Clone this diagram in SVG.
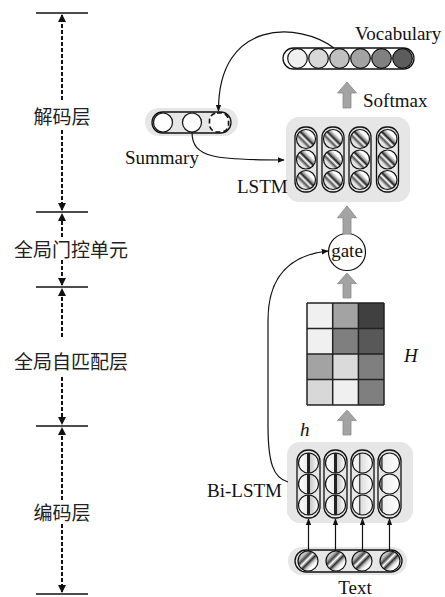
<svg xmlns="http://www.w3.org/2000/svg" width="445" height="597" viewBox="0 0 445 597">
<style>
.lbl{font-family:"Liberation Serif",serif;font-size:19px;fill:#111}
.cjk{font-family:"Noto Sans CJK SC",sans-serif;font-size:19px;fill:#222}
.tick{stroke:#111;stroke-width:1.3}
.dash{stroke:#111;stroke-width:2;stroke-dasharray:4 2;fill:none}
.bg{fill:#e6e6e6}
.pill{fill:none;stroke:#111;stroke-width:1.3}
.c{stroke:#111;stroke-width:1.2}
.conn{fill:none;stroke:#111;stroke-width:1.2}
.block{fill:#a3a3a3;stroke:#8a8a8a;stroke-width:0.8}
.grid{stroke:#222;stroke-width:1.5}
</style>
<defs>
<marker id="dh" viewBox="0 0 8 8" refX="7" refY="4" markerWidth="4" markerHeight="4" orient="auto-start-reverse"><path d="M0,0L8,4L0,8Z" fill="#111"/></marker>
<marker id="ah" viewBox="0 0 10 10" refX="9" refY="5" markerWidth="7" markerHeight="7" markerUnits="userSpaceOnUse" orient="auto"><path d="M0,1L10,5L0,9Z" fill="#111"/></marker>
<linearGradient id="gBack" x1="0" y1="1" x2="1" y2="0">
<stop offset="0" stop-color="#fff"/><stop offset="0.28" stop-color="#e0e0e0"/><stop offset="0.38" stop-color="#555"/><stop offset="0.46" stop-color="#fff"/><stop offset="0.54" stop-color="#222"/><stop offset="0.62" stop-color="#aaa"/><stop offset="0.72" stop-color="#fff"/><stop offset="1" stop-color="#fff"/>
</linearGradient>
<linearGradient id="gFwd" x1="0" y1="0" x2="1" y2="1">
<stop offset="0" stop-color="#fff"/><stop offset="0.25" stop-color="#bbb"/><stop offset="0.36" stop-color="#444"/><stop offset="0.45" stop-color="#fff"/><stop offset="0.55" stop-color="#333"/><stop offset="0.65" stop-color="#ccc"/><stop offset="0.75" stop-color="#fff"/><stop offset="1" stop-color="#fff"/>
</linearGradient>
<linearGradient id="gV1" x1="0" y1="0" x2="1" y2="0">
<stop offset="0" stop-color="#fff"/><stop offset="0.4" stop-color="#eee"/><stop offset="0.45" stop-color="#222"/><stop offset="0.55" stop-color="#222"/><stop offset="0.6" stop-color="#ccc"/><stop offset="1" stop-color="#fff"/>
</linearGradient>
<linearGradient id="gV3" x1="0" y1="0" x2="1" y2="0">
<stop offset="0" stop-color="#fff"/><stop offset="0.3" stop-color="#eee"/><stop offset="0.36" stop-color="#333"/><stop offset="0.42" stop-color="#ddd"/><stop offset="1" stop-color="#fff"/>
</linearGradient>
<linearGradient id="gV4" x1="0" y1="0" x2="1" y2="0">
<stop offset="0" stop-color="#fff"/><stop offset="0.12" stop-color="#333"/><stop offset="0.2" stop-color="#eee"/><stop offset="1" stop-color="#fff"/>
</linearGradient>
<path id="blk" d="M-4,0L-4,-15L-9.5,-15L0,-26L9.5,-15L4,-15L4,0Z"/>
</defs>

<g id="layers">
<line class="tick" x1="36" y1="13" x2="88" y2="13"/>
<line class="tick" x1="36" y1="212" x2="88" y2="212"/>
<line class="tick" x1="36" y1="287" x2="88" y2="287"/>
<line class="tick" x1="36" y1="426" x2="88" y2="426"/>
<line class="tick" x1="36" y1="594" x2="88" y2="594"/>
<line class="dash" x1="62" y1="100" x2="62" y2="15" marker-end="url(#dh)"/>
<line class="dash" x1="62" y1="130" x2="62" y2="210" marker-end="url(#dh)"/>
<line class="dash" x1="62" y1="237" x2="62" y2="214" marker-end="url(#dh)"/>
<line class="dash" x1="62" y1="260" x2="62" y2="285" marker-end="url(#dh)"/>
<line class="dash" x1="62" y1="337" x2="62" y2="289" marker-end="url(#dh)"/>
<line class="dash" x1="62" y1="377" x2="62" y2="424" marker-end="url(#dh)"/>
<line class="dash" x1="62" y1="500" x2="62" y2="428" marker-end="url(#dh)"/>
<line class="dash" x1="62" y1="524" x2="62" y2="592" marker-end="url(#dh)"/>
<text class="cjk" x="62" y="124" text-anchor="middle">解码层</text>
<text class="cjk" x="71" y="257" text-anchor="middle">全局门控单元</text>
<text class="cjk" x="71" y="369" text-anchor="middle">全局自匹配层</text>
<text class="cjk" x="62" y="520" text-anchor="middle">编码层</text>
</g>

<g id="vocabulary">
<rect class="pill" x="283" y="48" width="131" height="21" rx="10.5"/>
<circle class="c" cx="297.5" cy="58.5" r="9.8" fill="#f0f0f0"/>
<circle class="c" cx="318.5" cy="58.5" r="9.8" fill="#d8d8d8"/>
<circle class="c" cx="339.5" cy="58.5" r="9.8" fill="#c0c0c0"/>
<circle class="c" cx="360.5" cy="58.5" r="9.8" fill="#a3a3a3"/>
<circle class="c" cx="381.5" cy="58.5" r="9.8" fill="#808080"/>
<circle class="c" cx="402.5" cy="58.5" r="9.8" fill="#5c5c5c"/>
<text class="lbl" x="355" y="40">Vocabulary</text>
</g>

<g id="summary">
<rect class="bg" x="145" y="108" width="93" height="28" rx="14"/>
<rect class="pill" x="152" y="112" width="79" height="21" rx="10.5"/>
<circle class="c" cx="163" cy="122.5" r="9.5" fill="#fff"/>
<circle class="c" cx="192" cy="122.5" r="9.5" fill="#fff"/>
<rect x="209.5" y="113" width="19" height="19" rx="7.5" fill="#fff" stroke="#111" stroke-width="1.6" stroke-dasharray="5 3"/>
<text class="lbl" x="125" y="164">Summary</text>
</g>

<g id="lstm">
<rect class="bg" x="286" y="117" width="124" height="85" rx="13"/>
<rect class="pill" x="295" y="127" width="22" height="65" rx="10"/>
<rect class="pill" x="322" y="127" width="22" height="65" rx="10"/>
<rect class="pill" x="349" y="127" width="22" height="65" rx="10"/>
<rect class="pill" x="376.5" y="127" width="22" height="65" rx="10"/>
<g fill="url(#gBack)">
<circle class="c" cx="306" cy="139" r="9.5"/><circle class="c" cx="306" cy="159.5" r="9.5"/><circle class="c" cx="306" cy="180" r="9.5"/>
<circle class="c" cx="333" cy="139" r="9.5"/><circle class="c" cx="333" cy="159.5" r="9.5"/><circle class="c" cx="333" cy="180" r="9.5"/>
<circle class="c" cx="360" cy="139" r="9.5"/><circle class="c" cx="360" cy="159.5" r="9.5"/><circle class="c" cx="360" cy="180" r="9.5"/>
<circle class="c" cx="387.5" cy="139" r="9.5"/><circle class="c" cx="387.5" cy="159.5" r="9.5"/><circle class="c" cx="387.5" cy="180" r="9.5"/>
</g>
<text class="lbl" x="237" y="193">LSTM</text>
</g>

<g id="gate">
<circle cx="347" cy="252" r="18.5" fill="#fff" stroke="#111" stroke-width="1.2"/>
<text class="lbl" x="347" y="257" text-anchor="middle">gate</text>
</g>

<g id="matrix">
<rect x="307" y="303" width="25.7" height="25.5" fill="#f0f0f0"/>
<rect x="332.7" y="303" width="25.7" height="25.5" fill="#a3a3a3"/>
<rect x="358.4" y="303" width="25.6" height="25.5" fill="#404040"/>
<rect x="307" y="328.5" width="25.7" height="25.5" fill="#f0f0f0"/>
<rect x="332.7" y="328.5" width="25.7" height="25.5" fill="#7f7f7f"/>
<rect x="358.4" y="328.5" width="25.6" height="25.5" fill="#585858"/>
<rect x="307" y="354" width="25.7" height="25.5" fill="#a3a3a3"/>
<rect x="332.7" y="354" width="25.7" height="25.5" fill="#dadada"/>
<rect x="358.4" y="354" width="25.6" height="25.5" fill="#7f7f7f"/>
<rect x="307" y="379.5" width="25.7" height="25.5" fill="#d8d8d8"/>
<rect x="332.7" y="379.5" width="25.7" height="25.5" fill="#f0f0f0"/>
<rect x="358.4" y="379.5" width="25.6" height="25.5" fill="#7f7f7f"/>
<g class="grid">
<line x1="307" y1="303" x2="384" y2="303"/><line x1="307" y1="328.5" x2="384" y2="328.5"/><line x1="307" y1="354" x2="384" y2="354"/><line x1="307" y1="379.5" x2="384" y2="379.5"/><line x1="307" y1="405" x2="384" y2="405"/>
<line x1="307" y1="303" x2="307" y2="405"/><line x1="332.7" y1="303" x2="332.7" y2="405"/><line x1="358.4" y1="303" x2="358.4" y2="405"/><line x1="384" y1="303" x2="384" y2="405"/>
</g>
<text class="lbl" x="404" y="362" style="font-style:italic">H</text>
</g>

<g id="bilstm">
<rect class="bg" x="287" y="442" width="126" height="81" rx="13"/>
<rect class="pill" x="297" y="450" width="23" height="68" rx="11"/>
<rect class="pill" x="324" y="450" width="23" height="68" rx="11"/>
<rect class="pill" x="351" y="450" width="23" height="68" rx="11"/>
<rect class="pill" x="378" y="450" width="23" height="68" rx="11"/>
<g fill="url(#gV1)">
<circle class="c" cx="308.5" cy="463" r="10"/><circle class="c" cx="308.5" cy="484" r="10"/><circle class="c" cx="308.5" cy="505" r="10"/>
<circle class="c" cx="335.5" cy="463" r="10"/><circle class="c" cx="335.5" cy="484" r="10"/><circle class="c" cx="335.5" cy="505" r="10"/>
</g>
<g fill="url(#gV3)">
<circle class="c" cx="362.5" cy="463" r="10"/><circle class="c" cx="362.5" cy="484" r="10"/><circle class="c" cx="362.5" cy="505" r="10"/>
</g>
<g fill="url(#gV4)">
<circle class="c" cx="389.5" cy="463" r="10"/><circle class="c" cx="389.5" cy="484" r="10"/><circle class="c" cx="389.5" cy="505" r="10"/>
</g>
<text class="lbl" x="300" y="436" style="font-style:italic">h</text>
<text class="lbl" x="207" y="497">Bi-LSTM</text>
</g>

<g id="text">
<rect class="bg" x="288" y="547" width="119" height="28" rx="14"/>
<rect class="pill" x="295" y="550" width="107" height="22" rx="11"/>
<g fill="url(#gFwd)">
<circle class="c" cx="308" cy="561" r="10"/><circle class="c" cx="336" cy="561" r="10"/><circle class="c" cx="362" cy="561" r="10"/><circle class="c" cx="390" cy="561" r="10"/>
</g>
<text class="lbl" x="355" y="594" text-anchor="middle">Text</text>
</g>

<g id="connectors">
<path class="conn" d="M334,48 C300,22 218,18 218.5,111" marker-end="url(#ah)"/>
<path class="conn" d="M192,132 C192,158 215,160 284,160" marker-end="url(#ah)"/>
<path class="conn" d="M288,482 C273,478 268,462 268,425 L268,320 C268,276 290,255 328,251" marker-end="url(#ah)"/>
<line class="conn" x1="308.5" y1="551" x2="308.5" y2="519" marker-end="url(#ah)"/>
<line class="conn" x1="335.5" y1="551" x2="335.5" y2="519" marker-end="url(#ah)"/>
<line class="conn" x1="362.5" y1="551" x2="362.5" y2="519" marker-end="url(#ah)"/>
<line class="conn" x1="389.5" y1="551" x2="389.5" y2="519" marker-end="url(#ah)"/>
<use href="#blk" class="block" transform="translate(347,108)"/>
<use href="#blk" class="block" transform="translate(347,234) scale(1,1.08)"/>
<use href="#blk" class="block" transform="translate(347,298) scale(1,0.96)"/>
<use href="#blk" class="block" transform="translate(347,435) scale(1,0.96)"/>
<text class="lbl" x="363" y="107">Softmax</text>
</g>
</svg>
